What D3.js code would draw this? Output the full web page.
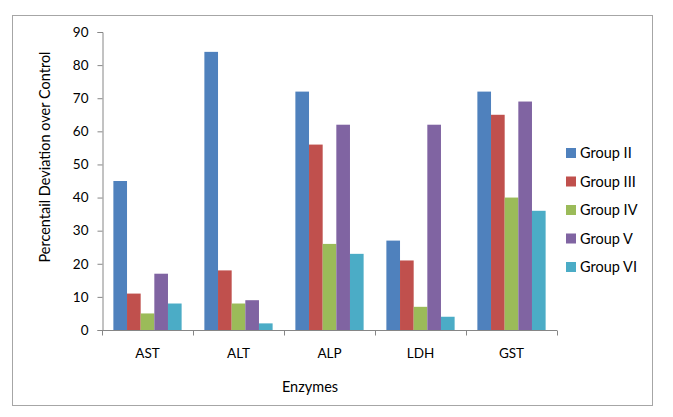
<!DOCTYPE html>
<html><head><meta charset="utf-8">
<script src="https://cdn.jsdelivr.net/npm/d3@7"></script>
<style>body{margin:0;background:#fff}svg{display:block}text{font-family:Lato,"Open Sans",sans-serif;fill:#000}</style>
</head><body><svg id="c" width="673" height="417"></svg>
<script>
const categories = ["AST","ALT","ALP","LDH","GST"];
const seriesNames = ["Group II","Group III","Group IV","Group V","Group VI"];
const groupII  = [45, 84, 72, 27, 72];
const groupIII = [11, 18, 56, 21, 65];
const groupIV  = [5, 8, 26, 7, 40];
const groupV   = [17, 9, 62, 62, 69];
const groupVI  = [8, 2, 23, 4, 36];
const yTicks = [0,10,20,30,40,50,60,70,80,90];
const colors = ["#4F81BD","#C0504D","#9BBB59","#8064A2","#4BACC6"];
const seriesValues = [groupII, groupIII, groupIV, groupV, groupVI];

const svg = d3.select("#c");
svg.append("rect").attr("x",12.5).attr("y",15.5).attr("width",640).attr("height",390)
  .attr("fill","#fff").attr("stroke","#A6A6A6");

const y = d3.scaleLinear().domain([0,90]).range([330,32]);
const x0 = d3.scaleBand().domain(categories).range([102,557]).paddingInner(0.25).paddingOuter(0.125);
const x1 = d3.scaleBand().domain(seriesNames).range([0,x0.bandwidth()]);

// bars
categories.forEach((c,ci)=>{
  seriesNames.forEach((s,si)=>{
    svg.append("rect").attr("x",x0(c)+x1(s)).attr("y",y(seriesValues[si][ci]))
      .attr("width",x1.bandwidth()).attr("height",y(0)-y(seriesValues[si][ci]))
      .attr("fill",colors[si]);
  });
});

// y axis
const yAxis = svg.append("g").attr("transform","translate(102.5,0)")
  .call(d3.axisLeft(y).tickValues(yTicks).tickSize(5).tickPadding(9));
yAxis.selectAll("path,line").attr("stroke","#868686");
yAxis.selectAll("text").attr("font-size",13.5).attr("font-family","Lato,sans-serif");

// x axis
const xAxisG = svg.append("g").attr("transform","translate(0,330.5)");
xAxisG.append("line").attr("x1",102).attr("x2",557).attr("stroke","#868686");
const step = x0.step();
const bounds = categories.map((c,i)=>x0(c)-x0.paddingOuter()*step).concat([557]);
xAxisG.selectAll("line.t").data(bounds).join("line").attr("class","t")
  .attr("x1",d=>Math.round(d)+0.5).attr("x2",d=>Math.round(d)+0.5).attr("y1",0).attr("y2",5).attr("stroke","#868686");
xAxisG.selectAll("text").data(categories).join("text")
  .attr("x",d=>x0(d)+x0.bandwidth()/2).attr("y",27).attr("text-anchor","middle").attr("font-size",13.5).text(d=>d);

// titles
svg.append("text").attr("x",310).attr("y",392).attr("text-anchor","middle").attr("font-size",14.5).text("Enzymes");
svg.append("text").attr("transform","translate(50,157) rotate(-90)").attr("text-anchor","middle").attr("font-size",14.5)
  .text("Percentail Deviation over Control");

// legend
const lg = svg.append("g");
seriesNames.forEach((s,i)=>{
  const cy = 153 + i*28.5;
  lg.append("rect").attr("x",566).attr("y",cy-5).attr("width",10).attr("height",10).attr("fill",colors[i]);
  lg.append("text").attr("x",580).attr("y",cy+5).attr("font-size",14.5).text(s);
});
</script></body></html>
